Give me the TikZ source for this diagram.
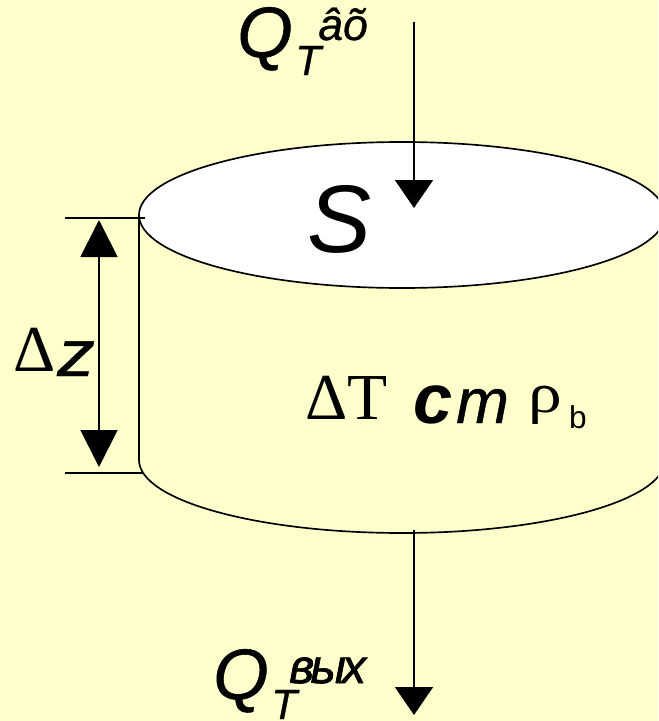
\documentclass[tikz,border=0pt]{standalone}
\usepackage{xcolor}
\usepackage{fontspec}
\setmainfont{Liberation Sans}
\newfontfamily\serifface{Liberation Serif}
\newfontfamily\serifwide{Liberation Serif}[FakeStretch=1.2]
\newfontfamily\smearface{Liberation Sans Italic}[FakeBold=0.7]
\newfontfamily\smearwide{Liberation Sans Italic}[FakeBold=0.7, FakeStretch=1.15]
\newfontfamily\smeartight{Liberation Sans Italic}[FakeBold=1.4, LetterSpace=-8]
\usetikzlibrary{arrows.meta, calc}
\definecolor{paper}{HTML}{FFFFCC}
\tikzset{
  flow/.style={line width=0.55mm, -{Triangle[length=0.84cm, width=1.14cm]}},
  span/.style={line width=0.55mm, {Triangle[length=1.11cm, width=1.11cm]}-{Triangle[length=1.11cm, width=1.11cm]}},
  tick/.style={line width=0.4mm},
  rim/.style={draw, line width=0.5mm},
  sym/.style={inner sep=0pt, font=\fontsize{61}{61}\selectfont\smearface},
  idx/.style={inner sep=0pt, font=\fontsize{36}{36}\selectfont\smearface},
}
\begin{document}
\begin{tikzpicture}[x=0.03cm, y=-0.03cm]
  \useasboundingbox (0,0) rectangle (658,721);
  \clip (0,0) rectangle (658,721);
  \fill[paper] (0,0) rectangle (658,721);
  % cylinder
  \coordinate (topC) at (402,215);
  \coordinate (botC) at (402,460);
  \draw[rim] (139,215) -- (139,460) arc[start angle=180, end angle=360, x radius=263, y radius=-73];
  \draw[rim, fill=white] (topC) ellipse[x radius=263, y radius=73];
  % heat flows
  \coordinate (inA) at (414,22);
  \coordinate (inB) at (414,208);
  \coordinate (outA) at (414,530);
  \coordinate (outB) at (414,715);
  \draw[flow] (inA) -- (inB);
  \draw[flow] (outA) -- (outB);
  % height
  \coordinate (dzA) at (65,218);
  \coordinate (dzB) at (65,473);
  \coordinate (dzC) at (145,218);
  \coordinate (dzD) at (143,473);
  \coordinate (dzE) at (99,220);
  \coordinate (dzF) at (99,467);
  \draw[tick] (dzA) -- (dzC);
  \draw[tick] (dzB) -- (dzD);
  \draw[span] (dzE) -- (dzF);
  % labels
  \node[sym, anchor=base west] (Qin) at (237,57) {Q};
  \node[idx, anchor=base west] (Tin) at (295,75) {T};
  \node[idx, anchor=base west, font=\fontsize{38}{38}\selectfont\smearface] (Sin) at (318,40) {âõ};
  \node[sym, anchor=base west] (Qout) at (213,699) {Q};
  \node[idx, anchor=base west] (Tout) at (271,719) {T};
  \node[idx, anchor=base west, font=\fontsize{41}{41}\selectfont\smeartight] (Sout) at (289,683) {вых};
  \node[anchor=base west, inner sep=0pt, font=\fontsize{82}{82}\selectfont\itshape] (Sname) at (307,252) {S};
  \node[anchor=base west, inner sep=0pt, font=\fontsize{56}{56}\selectfont\serifface] (dZa) at (13,371) {Δ};
  \node[anchor=base west, inner sep=0pt, font=\fontsize{56}{56}\selectfont\smearwide] (dZb) at (57,376) {z};
  \node[anchor=base west, inner sep=0pt, font=\fontsize{56}{56}\selectfont\serifface] (dT) at (305,419) {ΔT};
  \node[anchor=base west, inner sep=0pt, font=\fontsize{60}{60}\selectfont\itshape\bfseries] (cm) at (413,423) {c};
  \node[anchor=base west, inner sep=0pt, font=\fontsize{54}{54}\selectfont\smearface] (cmb) at (456,423) {m};
  \node[anchor=base west, inner sep=0pt, font=\fontsize{48}{48}\selectfont\serifwide] (rho) at (528,412) {ρ};
  \node[anchor=base west, inner sep=0pt, font=\fontsize{27}{27}\selectfont] (rhob) at (569,428) {b};
\end{tikzpicture}
\end{document}
